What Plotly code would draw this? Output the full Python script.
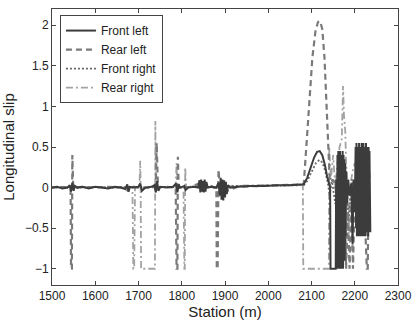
import plotly.graph_objects as go

# ---- data ----
front_left_x = [1500, 1512, 1524, 1536, 1541, 1544, 1547, 1550, 1553, 1558, 1570, 1585, 1600, 1615, 1630,
                1645, 1660, 1670, 1674, 1677, 1680, 1690, 1700, 1704, 1708, 1716, 1730, 1737, 1740, 1743,
                1746, 1750, 1765, 1780, 1787, 1790, 1793, 1796, 1806, 1809, 1815, 1828, 1838, 1841, 1843,
                1845, 1847, 1849, 1851, 1853, 1855, 1857, 1860, 1870, 1880, 1885, 1888, 1890, 1892, 1894,
                1896, 1898, 1900, 1902, 1904, 1907, 1912, 1930, 1960, 1990, 2020, 2050, 2082, 2090, 2098,
                2106, 2113, 2119, 2125, 2131, 2136, 2140, 2143, 2144, 2156, 2157, 2159, 2160, 2161, 2162,
                2163, 2164, 2165, 2166, 2167, 2168, 2169, 2170, 2171, 2172, 2173, 2174, 2175, 2176, 2177,
                2178, 2179, 2180, 2182, 2185, 2188, 2192, 2195, 2197, 2200, 2202, 2203, 2204, 2205, 2206,
                2207, 2208, 2209, 2210, 2211, 2212, 2213, 2214, 2215, 2216, 2217, 2218, 2219, 2220, 2221,
                2222, 2223, 2224, 2225, 2226, 2227, 2228, 2229, 2230, 2231, 2232, 2233, 2234, 2235, 2236]
front_left_y = [0.0, 0.01, -0.01, 0.0, 0.03, -0.05, 0.06, -0.04, 0.02, 0.0, 0.01, -0.01, 0.01, 0.0, -0.01,
                0.01, 0.0, -0.02, 0.04, -0.05, 0.01, 0.0, 0.01, 0.05, -0.04, 0.0, 0.01, 0.03, -0.06, 0.08,
                -0.04, 0.01, 0.0, 0.01, 0.05, -0.06, 0.04, 0.0, 0.02, -0.03, 0.0, 0.01, 0.0, 0.09, -0.06,
                0.1, -0.05, 0.08, -0.06, 0.1, -0.05, 0.07, 0.0, 0.01, 0.0, 0.06, -0.1, 0.12, -0.15, 0.1,
                -0.16, 0.09, -0.12, 0.07, -0.08, 0.03, 0.0, 0.01, 0.02, 0.02, 0.03, 0.03, 0.04, 0.12, 0.25,
                0.37, 0.44, 0.45, 0.4, 0.28, 0.14, 0.05, 0.0, -1.0, -1.0, 0.1, -1.0, 0.4, -1.0, 0.45,
                -1.0, 0.35, -1.0, 0.45, -0.95, 0.4, -1.0, 0.3, -0.9, 0.45, -1.0, 0.4, -0.8, 0.35, -0.9,
                0.3, -0.6, 0.2, -0.2, 0.1, -0.1, 0.05, -0.7, 0.1, -0.3, 0.5, -0.5, 0.55, -0.6, 0.5,
                -0.55, 0.45, -0.6, 0.55, -0.5, 0.5, -0.6, 0.45, -0.55, 0.55, -0.6, 0.5, -0.45, 0.55, -0.6,
                0.5, -0.55, 0.45, -0.6, 0.55, -0.5, 0.5, -0.55, 0.45, -0.6, 0.5, -0.55, 0.45, -0.5, -0.55, 0.1]

rear_left_x = [1500, 1520, 1538, 1543, 1544, 1546, 1547, 1549, 1552, 1575, 1600, 1630, 1660, 1676, 1680,
               1700, 1730, 1740, 1742, 1745, 1760, 1786, 1788, 1790, 1791, 1793, 1796, 1820, 1845, 1850,
               1855, 1875, 1880, 1881, 1883, 1885, 1888, 1900, 1930, 1980, 2030, 2082, 2088, 2095, 2102,
               2109, 2115, 2120, 2125, 2130, 2134, 2138, 2141, 2143, 2150, 2160, 2170, 2177, 2180, 2184,
               2188, 2192, 2196, 2200, 2210, 2220, 2228, 2230, 2232, 2236]
rear_left_y = [0.0, 0.01, 0.0, 0.0, -1.0, -1.0, 0.4, 0.02, 0.0, 0.01, 0.0, 0.01, 0.0, -0.04, 0.02,
               0.0, 0.0, 0.02, 0.55, 0.0, 0.01, 0.0, -1.0, -1.0, 0.38, 0.0, 0.0, 0.01, 0.06, -0.05,
               0.05, 0.0, 0.0, -1.0, -1.0, 0.22, 0.0, -0.05, 0.01, 0.02, 0.03, 0.04, 0.5, 1.1, 1.6,
               1.92, 2.04, 2.05, 1.95, 1.6, 1.1, 0.55, 0.2, 0.0, 0.1, -0.1, 0.0, -0.2, -1.0, -0.3,
               -1.0, -0.2, -1.0, 0.0, 0.0, 0.05, -1.0, -1.0, 0.0, 0.0]

front_right_x = [1500, 1530, 1560, 1600, 1640, 1680, 1720, 1760, 1800, 1840, 1880, 1920, 1980, 2040, 2082,
                 2090, 2100, 2110, 2118, 2125, 2132, 2138, 2142, 2147, 2155, 2162, 2170, 2178, 2186, 2193,
                 2200, 2210, 2220, 2230, 2235]
front_right_y = [0.0, 0.01, 0.0, 0.01, 0.0, 0.01, 0.0, 0.01, 0.0, 0.02, 0.0, 0.02, 0.02, 0.03, 0.03,
                 0.08, 0.2, 0.3, 0.34, 0.31, 0.2, 0.05, -0.1, 0.1, -0.2, 0.3, -0.3, 0.2, -0.4, 0.1,
                 0.0, 0.1, 0.02, 0.08, 0.05]

rear_right_x = [1500, 1540, 1560, 1600, 1640, 1686, 1688, 1690, 1692, 1702, 1704, 1705, 1706, 1738, 1739,
                1740, 1742, 1760, 1786, 1788, 1790, 1804, 1806, 1807, 1808, 1810, 1840, 1880, 1920, 1980,
                2040, 2080, 2081, 2140, 2141, 2145, 2150, 2155, 2160, 2165, 2170, 2173, 2175, 2178, 2180,
                2183, 2186, 2189, 2195, 2200, 2205, 2210, 2213, 2216, 2220, 2224, 2228, 2232, 2235]
rear_right_y = [0.0, 0.01, 0.0, 0.01, 0.0, 0.0, -1.0, -1.0, 0.0, 0.0, 0.33, 0.0, -1.0, -1.0, 0.82,
                0.0, 0.0, 0.01, 0.0, 0.3, 0.0, 0.0, -1.0, -1.0, 0.25, 0.0, 0.01, 0.0, 0.02, 0.03,
                0.03, 0.04, -1.0, -1.0, 0.5, 0.1, 0.4, 0.0, 0.3, 0.5, 0.6, 1.25, 0.9, 0.7, 0.3,
                0.1, -0.6, 0.0, 0.2, 0.3, 0.25, 0.35, 0.25, 0.38, 0.3, 0.4, 0.3, 0.35, 0.1]

x_ticks = [1500, 1600, 1700, 1800, 1900, 2000, 2100, 2200, 2300]
y_ticks = [-1, -0.5, 0, 0.5, 1, 1.5, 2]
y_tick_text = ["−1", "−0.5", "0", "0.5", "1", "1.5", "2"]

font_family = "Liberation Sans, Arial, sans-serif"

fig = go.Figure()
fig.add_trace(go.Scatter(x=rear_right_x, y=rear_right_y, mode="lines", name="Rear right",
                         line=dict(color="#a3a3a3", width=1.8, dash="7px,3px,2px,3px")))
fig.add_trace(go.Scatter(x=front_right_x, y=front_right_y, mode="lines", name="Front right",
                         line=dict(color="#6a6a6a", width=1.8, dash="2px,2px")))
fig.add_trace(go.Scatter(x=rear_left_x, y=rear_left_y, mode="lines", name="Rear left",
                         line=dict(color="#7a7a7a", width=2.2, dash="6px,4px")))
fig.add_trace(go.Scatter(x=front_left_x, y=front_left_y, mode="lines", name="Front left",
                         line=dict(color="#3c3c3c", width=2.0)))

axis_common = dict(showgrid=False, zeroline=False, showline=True, linecolor="#444", linewidth=1,
                   mirror="ticks", ticks="inside", ticklen=4, tickcolor="#444",
                   tickfont=dict(size=12, color="#222", family=font_family))

fig.update_layout(
    width=420, height=324,
    margin=dict(l=52, r=16, t=8, b=38),
    paper_bgcolor="white", plot_bgcolor="white",
    font=dict(family=font_family, color="#222"),
    xaxis=dict(range=[1500, 2300], tickvals=x_ticks,
               title=dict(text="Station (m)", font=dict(size=15), standoff=2), **axis_common),
    yaxis=dict(range=[-1.2, 2.2], tickvals=y_ticks, ticktext=y_tick_text,
               title=dict(text="Longitudinal slip", font=dict(size=15), standoff=6), **axis_common),
    legend=dict(x=0.023, y=0.978, xanchor="left", yanchor="top", traceorder="reversed",
                bgcolor="white", bordercolor="#444", borderwidth=1,
                font=dict(size=12, color="#222"), tracegroupgap=0),
    showlegend=True,
)

fig.write_html("out.html")
